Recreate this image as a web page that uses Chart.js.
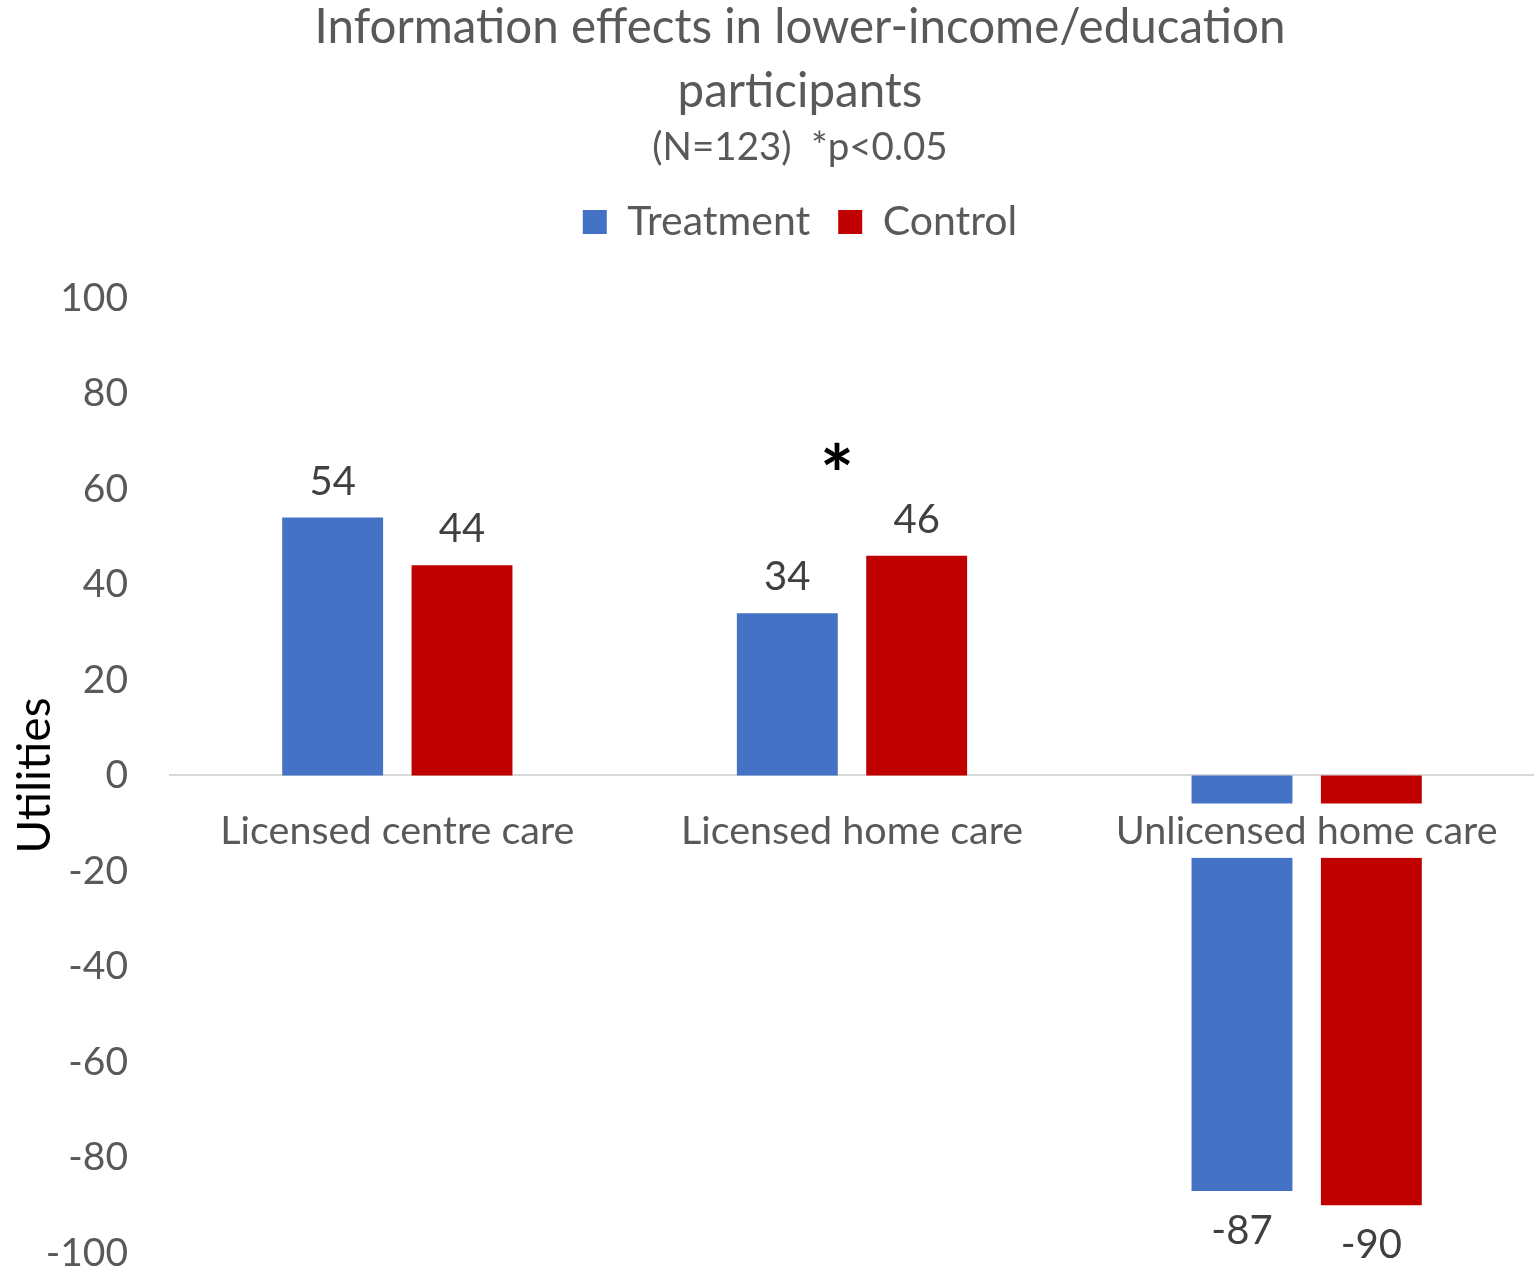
<!DOCTYPE html>
<html><head><meta charset="utf-8">
<script src="https://cdn.jsdelivr.net/npm/chart.js@4"></script>
<style>html,body{margin:0;padding:0;background:#fff;}#wrap{width:1534px;height:1269px;position:relative;}</style>
</head><body><div id="wrap"><canvas id="c"></canvas></div>
<script>
const categories = ['Licensed centre care', 'Licensed home care', 'Unlicensed home care'];
const seriesNames = ['Treatment', 'Control'];
const treatment = [54, 34, -87];
const control = [44, 46, -90];
const significance = ['', '*', ''];
const significanceLevel = [0, 62.2, 0];
const yMin = -100, yMax = 100, yStep = 20;
const titleLines = ['Information effects in lower-income/education', 'participants'];
const subtitleText = '(N=123)  *p<0.05';
const yTitle = 'Utilities';

const FONT = 'Lato';

const labelPlugin = {
  id: 'valueLabels',
  afterDatasetsDraw(chart) {
    const ctx = chart.ctx;
    ctx.save();
    ctx.font = '40px ' + FONT;
    ctx.fillStyle = '#404040';
    ctx.textAlign = 'center';
    ctx.textBaseline = 'middle';
    chart.data.datasets.forEach((ds, di) => {
      const meta = chart.getDatasetMeta(di);
      meta.data.forEach((el, i) => {
        const v = ds.data[i];
        const y = v >= 0 ? el.y - 36 : el.y + 40;
        ctx.fillText(String(v), el.x, y);
      });
    });
    const xs = chart.scales.x, ys = chart.scales.y;
    ctx.font = 'bold 80px ' + FONT;
    ctx.fillStyle = '#000';
    significance.forEach((s, i) => {
      if (!s) return;
      ctx.fillText(s, xs.getPixelForValue(i) - 15, ys.getPixelForValue(significanceLevel[i]));
    });
    ctx.restore();
  }
};

new Chart(document.getElementById('c'), {
  type: 'bar',
  data: {
    labels: categories,
    datasets: [
      { label: seriesNames[0], data: treatment, backgroundColor: '#4472C4', borderWidth: 0, xAxisID: 'x', yAxisID: 'y' },
      { label: seriesNames[1], data: control, backgroundColor: '#C00000', borderWidth: 0, xAxisID: 'x', yAxisID: 'y' }
    ]
  },
  options: {
    responsive: true,
    maintainAspectRatio: false,
    animation: false,
    devicePixelRatio: 1,
    layout: { padding: { top: 0, bottom: 16, left: 42, right: -24 } },
    datasets: { bar: { categoryPercentage: 0.569, barPercentage: 0.78 } },
    plugins: {
      title: {
        display: true, text: titleLines, color: '#595959',
        font: { family: FONT, size: 47.5, weight: 'normal', lineHeight: 1.347 },
        padding: { top: -4, bottom: 0 }
      },
      subtitle: {
        display: true, text: subtitleText, color: '#595959',
        font: { family: FONT, size: 38.5, weight: 'normal', lineHeight: 1.2 },
        padding: { top: 1, bottom: 2.3 }
      },
      legend: {
        display: true, position: 'top',
        labels: {
          boxWidth: 24, boxHeight: 24, color: '#595959', padding: 28,
          font: { family: FONT, size: 41 }
        }
      },
      tooltip: { enabled: false }
    },
    scales: {
      x: {
        type: 'category',
        position: { y: 0 },
        offset: true,
        grid: { display: false, drawTicks: false },
        border: { display: true, color: '#D9D9D9', width: 2 },
        ticks: {
          z: 1, color: '#595959', padding: 32, autoSkip: false, maxRotation: 0,
          font: { family: FONT, size: 39.5 },
          showLabelBackdrop: true, backdropColor: '#ffffff',
          backdropPadding: { top: 4, bottom: 3, left: 2, right: 2 }
        }
      },
      x2: {
        type: 'category',
        position: 'top',
        display: true,
        grid: { display: false, drawTicks: false },
        border: { display: false },
        ticks: { display: false },
        afterFit(s) { s.height = 45.5; }
      },
      y: {
        min: yMin, max: yMax,
        grid: { display: false, drawTicks: false },
        border: { display: false },
        ticks: { stepSize: yStep, color: '#595959', padding: 42, font: { family: FONT, size: 39 } },
        title: {
          display: true, text: yTitle, color: '#000000',
          font: { family: FONT, size: 46 }, padding: { top: -34, bottom: 0 }
        },
        afterFit(s) { s.width = 128; s.paddingTop = 0; s.paddingBottom = 0; }
      },
      y2: {
        type: 'linear',
        position: 'right',
        display: true,
        grid: { display: false, drawTicks: false },
        border: { display: false },
        ticks: { display: false },
        afterFit(s) { s.width = 24; s.paddingTop = 0; s.paddingBottom = 0; }
      }
    }
  },
  plugins: [labelPlugin]
});
</script>
</body></html>
